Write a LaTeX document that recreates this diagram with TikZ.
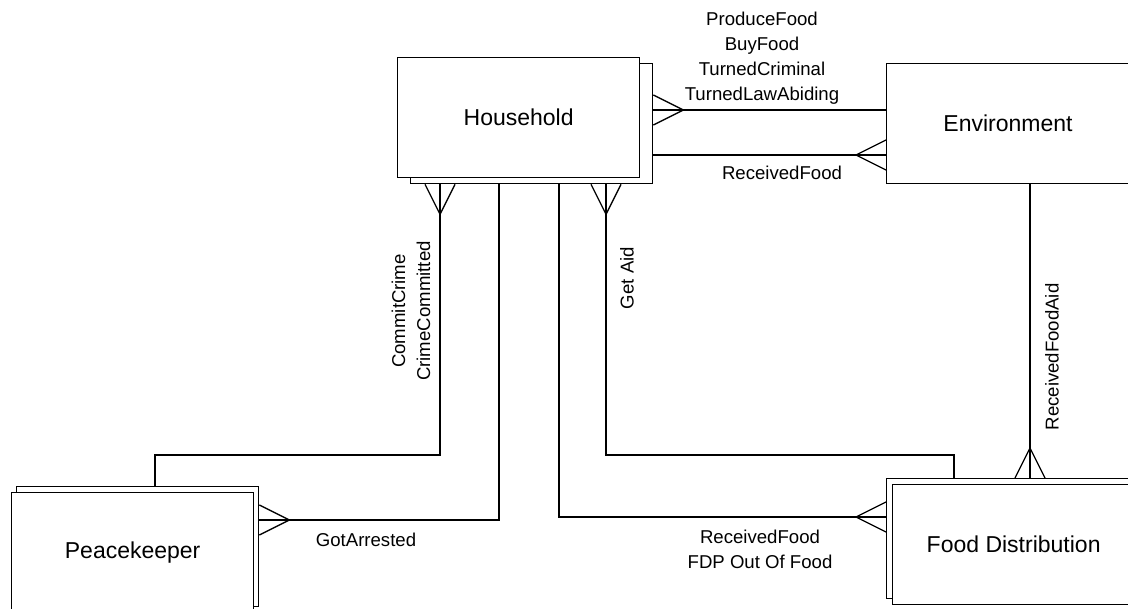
\documentclass[tikz,border=0pt]{standalone}
\usepackage{fontspec}
\setmainfont{Liberation Sans}
\usetikzlibrary{calc}

\tikzset{
  entity/.style={draw, fill=white, line width=1.3pt, anchor=north west,
    minimum width=242pt, minimum height=120pt, inner sep=0pt,
    font=\fontsize{23}{27}\selectfont},
  conn/.style={line width=1.3pt},
  lbl/.style={font=\fontsize{18.6}{25}\selectfont, align=center, inner sep=0pt},
  crowfoot/.pic={\draw[line width=1.3pt] (0,15) -- (30,0) -- (0,-15);}
}

\begin{document}
\begin{tikzpicture}[x=1pt,y=1pt]
\useasboundingbox (0,0) rectangle (1128,-609);
\clip (0,0) rectangle (1128,-609);

% entities (back sheet first, then front sheet)
\node[entity] (hhB) at (410,-63) {};
\node[entity] (hh)  at (397,-57) {Household};
\node[entity, minimum width=246pt] (env) at (886,-63) {};
\node[font=\fontsize{23}{27}\selectfont] (envT) at (1008,-123) {Environment};
\node[entity] (pkB) at (16,-486) {};
\node[entity] (pk)  at (11,-492) {Peacekeeper};
\node[entity] (fdB) at (886,-478) {};
\node[entity] (fd)  at (892,-484) {Food Distribution};

% Household -- Environment (events)
\draw[conn] (hhB.east |- 0,-110) -- (env.west |- 0,-110);
\pic at (hhB.east |- 0,-110) {crowfoot};
\node[lbl] (l1) at (762,-58) {ProduceFood\\BuyFood\\TurnedCriminal\\TurnedLawAbiding};

% Household -- Environment (received food)
\draw[conn] (hhB.east |- 0,-155) -- (env.west |- 0,-155);
\pic[rotate=180] at (env.west |- 0,-155) {crowfoot};
\node[lbl] (l2) at (782,-173) {ReceivedFood};

% Household -- Peacekeeper (crime)
\coordinate (c3) at (440,-455);
\draw[conn] (hhB.south -| c3) -- (c3) -| (pkB.north -| 155,0);
\pic[rotate=-90] at (hhB.south -| c3) {crowfoot};
\node[lbl, rotate=90] (l3) at (411,-311) {CommitCrime\\CrimeCommitted};

% Household -- Peacekeeper (arrest)
\coordinate (c4) at (499,-520);
\draw[conn] (hhB.south -| c4) -- (c4) -- (pkB.east |- c4);
\pic at (pkB.east |- c4) {crowfoot};
\node[lbl] (l4) at (366,-540) {GotArrested};

% Household -- Food Distribution (received food)
\coordinate (c5) at (559,-517);
\draw[conn] (hhB.south -| c5) -- (c5) -- (fdB.west |- c5);
\pic[rotate=180] at (fdB.west |- c5) {crowfoot};
\node[lbl] (l5) at (760,-549) {ReceivedFood\\FDP Out Of Food};

% Household -- Food Distribution (aid)
\coordinate (c6) at (606,-455);
\draw[conn] (hhB.south -| c6) -- (c6) -| (fdB.north -| 954,0);
\pic[rotate=-90] at (hhB.south -| c6) {crowfoot};
\node[lbl, rotate=90] (l6) at (627,-278) {Get Aid};

% Environment -- Food Distribution
\coordinate (c7) at (1030,0);
\draw[conn] (env.south -| c7) -- (fdB.north -| c7);
\pic[rotate=90] at (fdB.north -| c7) {crowfoot};
\node[lbl, rotate=90] (l7) at (1052,-357) {ReceivedFoodAid};
\end{tikzpicture}
\end{document}
